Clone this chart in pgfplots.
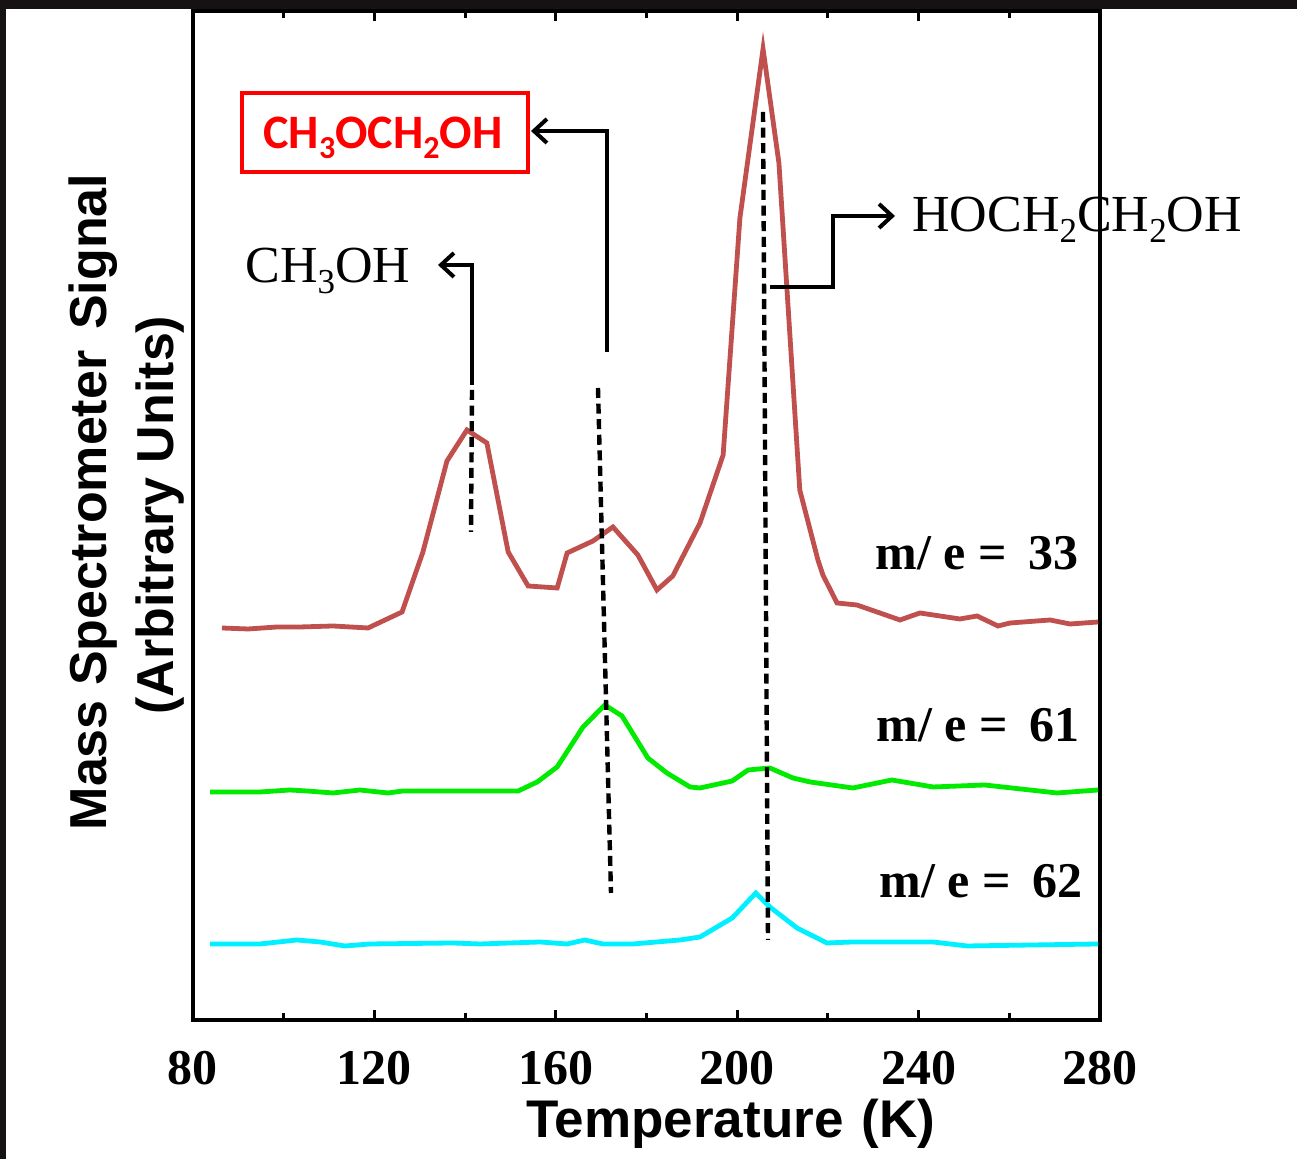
\documentclass[border=0pt]{standalone}
\usepackage{fontspec}
\usepackage{pgfplots}
\pgfplotsset{compat=1.18}
\usetikzlibrary{arrows.meta}
\newfontfamily\tnr{Liberation Serif}
\newfontfamily\ari{Liberation Sans}
\newfontfamily\calf{Carlito}
\definecolor{c33}{RGB}{192,80,77}
\definecolor{c61}{RGB}{0,235,0}
\definecolor{c62}{RGB}{0,240,255}
\definecolor{bgdark}{RGB}{22,18,20}
\newcommand{\pp}[2]{({(#1-193)*0.5pt},{(1020-#2)*0.5pt})}
\newcommand{\sub}[1]{\raisebox{-5.5pt}{\fontsize{17.5}{17.5}\selectfont #1}}
\begin{document}
\begin{tikzpicture}
\fill[bgdark] (-96.5pt,-69.5pt) rectangle (552pt,510pt);
\fill[white] (-93.5pt,-69.5pt) rectangle (552pt,505.5pt);
\begin{axis}[
  at={(0,0)}, anchor=south west,
  scale only axis, width=453.5pt, height=504.5pt,
  xmin=80, xmax=280, ymin=0, ymax=1009,
  xtick={80,120,...,280}, minor xtick={100,140,...,260},
  ytick=\empty,
  tick align=inside,
  major tick length=5pt, minor tick length=3.5pt,
  every tick/.style={black, line width=1.5pt},
  every minor tick/.style={black, line width=1.5pt},
  axis line style={line width=2pt},
  xticklabel style={font=\tnr\bfseries\fontsize{25}{25}\selectfont, yshift=-12pt},
  /pgf/number format/assume math mode=true,
]
\addplot[c33, line width=2.4pt] coordinates {
(86.39,392) (92.13,391) (98.52,393) (103.6,393) (110.9,394) (118.6,392)
(126.1,408) (130.7,468) (136.0,559) (140.4,590) (144.8,577) (149.5,468)
(153.9,434) (160.3,432) (162.5,467) (168.2,479) (172.6,493) (178.1,465)
(182.3,430) (185.8,444) (191.8,497) (196.9,565) (200.6,802) (205.7,971)
(209.2,857) (213.8,530) (217.8,460) (218.9,445) (222.0,417) (226.4,415)
(235.9,400) (240.3,407) (249.1,401) (252.9,404) (257.5,394) (260.2,397)
(269.0,400) (273.4,396) (279.6,398)
};
\addplot[c61, line width=2.4pt] coordinates {
(83.75,228) (94.77,228) (101.4,230) (105.1,229) (110.9,227) (116.8,230)
(123.0,227) (126.3,229) (151.7,229) (155.9,238) (160.3,253) (166.0,293)
(170.8,315) (174.6,304) (180.3,262) (184.5,247) (189.6,233) (191.8,232)
(198.9,239) (202.4,250) (207.2,252) (212.3,242) (216.1,238) (225.5,232)
(234.1,240) (243.2,233) (254.6,235) (270.5,227) (279.6,230)
};
\addplot[c62, line width=2.4pt] coordinates {
(83.75,76) (94.77,76) (102.9,80) (108.0,78) (113.5,74) (119.0,76)
(137.3,77) (143.3,76) (156.5,78) (162.5,76) (166.4,80) (170.4,76)
(177.0,76) (187.4,80) (191.8,83) (198.9,102) (204.1,127) (207.2,113)
(213.2,92) (219.8,77) (225.5,78) (243.2,78) (250.7,74) (279.6,76)
};
\end{axis}
% dashed guide lines
\begin{scope}[line width=2.2pt, dash pattern=on 5pt off 2.8pt]
\draw \pp{472}{390} -- \pp{471}{532};
\draw \pp{598}{388} -- \pp{611}{893};
\draw \pp{763}{112} -- \pp{768}{940};
\end{scope}
% arrows
\begin{scope}[line width=2pt, -{Straight Barb[length=6.5pt,width=12pt]}]
\draw \pp{472}{385} -- \pp{472}{265} -- \pp{438}{265};
\draw \pp{607}{352} -- \pp{607}{131} -- \pp{531}{131};
\draw \pp{770}{287} -- \pp{833}{287} -- \pp{833}{216} -- \pp{895}{216};
\end{scope}
\draw[red, line width=2pt] \pp{242}{93} rectangle \pp{528}{172};
\node[anchor=base west, inner sep=0, text=red, font=\calf\bfseries\fontsize{24}{24}\selectfont] at \pp{263}{149} {CH\raisebox{-5pt}{\fontsize{16}{16}\selectfont 3}OCH\raisebox{-5pt}{\fontsize{16}{16}\selectfont 2}OH};
\node[anchor=base west, inner sep=0, font=\tnr\fontsize{26}{26}\selectfont] at \pp{245}{283} {CH\sub{3}OH};
\node[anchor=base west, inner sep=0, font=\tnr\fontsize{26}{26}\selectfont] at \pp{912}{232} {HOCH\sub{2}CH\sub{2}OH};
\begin{scope}[font=\tnr\bfseries\fontsize{25}{25}\selectfont]
\node[anchor=base west, inner sep=0] at \pp{875}{570} {m/ e =\hspace{0.43em}33};
\node[anchor=base west, inner sep=0] at \pp{876}{742} {m/ e =\hspace{0.43em}61};
\node[anchor=base west, inner sep=0] at \pp{879}{898} {m/ e =\hspace{0.43em}62};
\end{scope}
\node[anchor=base, inner sep=0, font=\ari\bfseries\fontsize{26.5}{26.5}\selectfont] at \pp{731}{1138} {Temperature\hspace{0.35em}(K)};
\node[rotate=90, align=center, inner sep=0, font=\ari\bfseries\fontsize{26}{33.5}\selectfont] at \pp{127}{515} {\hspace*{13pt}Mass Spectrometer\hspace{0.4em}Signal\\(Arbitrary Units)};
\end{tikzpicture}
\end{document}
